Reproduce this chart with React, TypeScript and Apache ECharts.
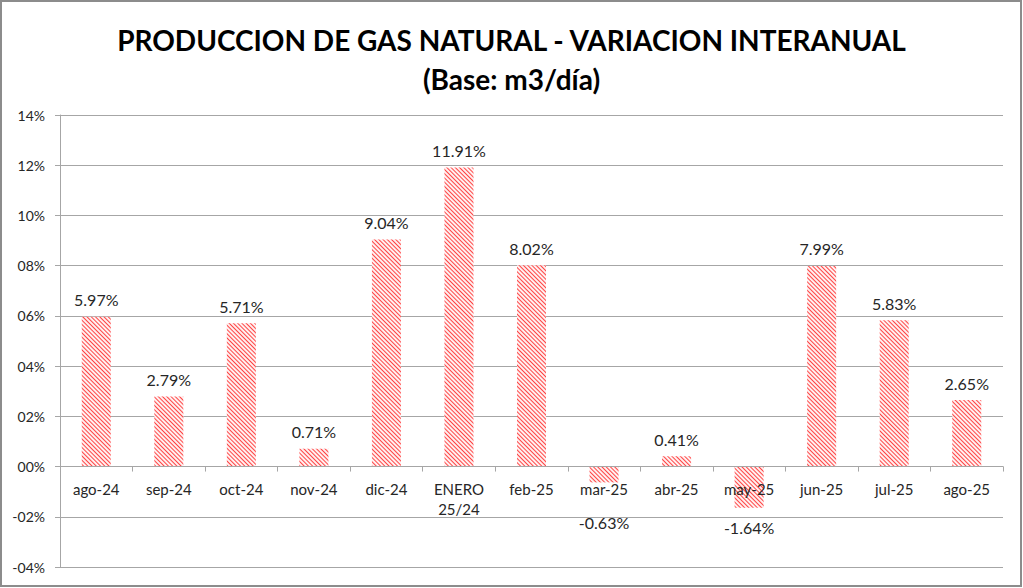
import React, { useEffect, useRef } from "react";
import * as echarts from "echarts";

const categories = [
  "ago-24", "sep-24", "oct-24", "nov-24", "dic-24", "ENERO\n25/24", "feb-25",
  "mar-25", "abr-25", "may-25", "jun-25", "jul-25", "ago-25",
];
const values = [5.97, 2.79, 5.71, 0.71, 9.04, 11.91, 8.02, -0.63, 0.41, -1.64, 7.99, 5.83, 2.65];
const yMin = -4;
const yMax = 14;
const yStep = 2;
const titleLines = ["PRODUCCION DE GAS NATURAL - VARIACION INTERANUAL", "(Base: m3/día)"];

const FONT = "Lato, 'Open Sans', sans-serif";
const GRID_TOP = 115;
const GRID_BOTTOM = 21;
const CHART_H = 588;

export default function App() {
  const ref = useRef<HTMLDivElement>(null);
  useEffect(() => {
    if (!ref.current) return;
    const chart = echarts.init(ref.current, undefined, { renderer: "svg" });
    const data = values.map((v, i) => {
      if (v >= 0) return { value: v };
      const distance = categories[i] === "mar-25" ? 32 : 12;
      return { value: v, label: { position: "bottom", distance } };
    });
    // place the category axis on the zero line of the value axis
    const plotH = CHART_H - GRID_TOP - GRID_BOTTOM;
    const zeroOffset = -((0 - yMin) / (yMax - yMin)) * plotH;
    chart.setOption({
      animation: false,
      backgroundColor: "#ffffff",
      title: {
        text: titleLines.join("\n"),
        left: "center",
        top: 15,
        textStyle: {
          fontFamily: FONT,
          fontSize: 28,
          fontWeight: "bold",
          color: "#000",
          lineHeight: 39,
        },
      },
      graphic: [
        {
          type: "rect",
          shape: { x: 1, y: 1, width: 1020, height: 585 },
          style: { fill: "none", stroke: "#8c8c8c", lineWidth: 2 },
          silent: true,
        },
      ],
      grid: {
        left: 60,
        right: 20,
        top: GRID_TOP,
        bottom: GRID_BOTTOM,
        containLabel: false,
        outerBoundsMode: "none",
      },
      xAxis: {
        type: "category",
        data: categories,
        position: "bottom",
        offset: zeroOffset,
        z: 5,
        axisLine: { onZero: false, lineStyle: { color: "#a6a6a6", width: 1 } },
        axisTick: { show: true, length: 5, lineStyle: { color: "#a6a6a6" } },
        axisLabel: {
          interval: 0,
          margin: 12,
          fontFamily: FONT,
          fontSize: 15,
          color: "#262626",
          lineHeight: 20,
        },
      },
      yAxis: {
        type: "value",
        min: yMin,
        max: yMax,
        interval: yStep,
        axisLine: { show: true, lineStyle: { color: "#a6a6a6" } },
        axisTick: { show: true, length: 5, lineStyle: { color: "#a6a6a6" } },
        splitLine: { lineStyle: { color: "#a6a6a6", width: 1 } },
        axisLabel: {
          margin: 15,
          fontFamily: FONT,
          fontSize: 14,
          color: "#262626",
          formatter: (v: number) =>
            (v < 0 ? "-" : "") + String(Math.abs(Math.round(v))).padStart(2, "0") + "%",
        },
      },
      series: [
        {
          type: "bar",
          data,
          barWidth: 29,
          itemStyle: {
            color: "#fff0f0",
            decal: {
              symbol: "rect",
              symbolSize: 1,
              dashArrayX: [1, 0],
              dashArrayY: [1, 1.2],
              rotation: Math.PI / 4,
              color: "#ff4444",
            },
          },
          label: {
            show: true,
            position: "top",
            distance: 9,
            fontFamily: FONT,
            fontSize: 16,
            color: "#262626",
            formatter: (p: any) => p.value.toFixed(2) + "%",
          },
        },
      ],
    });
    return () => chart.dispose();
  }, []);
  return (
    <div
      ref={ref}
      style={{ position: "fixed", left: 0, top: 0, width: 1023, height: 588 }}
    />
  );
}
